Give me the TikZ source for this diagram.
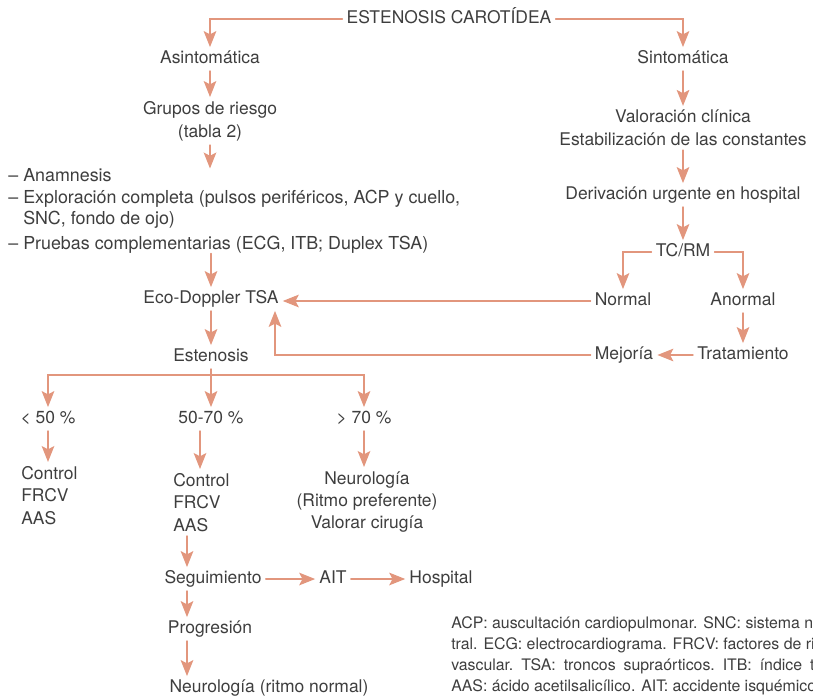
\documentclass[tikz,border=0pt]{standalone}
\usepackage{fontspec}
\setmainfont{TeX Gyre Heros}
\usetikzlibrary{arrows.meta}

\newcommand{\guion}{\makebox[11.25pt][l]{–}}
\newcommand{\wsp}{\hspace{0.5em}}

\begin{document}
\begin{tikzpicture}
	[x=0.75pt,y=-0.75pt,line cap=round,
	%Styles
	texto/.style={text=gristexto,inner sep=3pt,text height=9pt,text depth=2.5pt,font=\fontsize{13.1}{17}\selectfont},
	bloque/.style={text=gristexto,inner sep=3pt,align=center,font=\fontsize{13.1}{17}\selectfont},
	lista/.style={text=gristexto,inner sep=0pt,align=left,anchor=north west,font=\fontsize{13.4}{16.1}\selectfont},
	columna/.style={text=gristexto,inner sep=3pt,align=left,anchor=north west,font=\fontsize{13.1}{16.9}\selectfont},
	nota/.style={text=gristexto,inner sep=0pt,align=left,anchor=north west,font=\fontsize{11.9}{15.75}\selectfont},
	linea/.style={draw=salmon,line width=0.95pt},
	flecha/.style={linea,-{Stealth[length=12pt,width=9.5pt,inset=2.5pt]}}
	]
	
	%Colors
	\definecolor{salmon}{RGB}{226,150,125}	%connectors
	\definecolor{gristexto}{RGB}{62,62,62}	%text
	
	\useasboundingbox (0,0) rectangle (813,696);
	\clip (0,0) rectangle (813,696);
	
	%Top
	\node[texto] (titulo) at (449,19) {ESTENOSIS CAROTÍDEA};
	\node[texto] (asint) at (210,59) {Asintomática};
	\node[texto] (sint) at (683,59) {Sintomática};
	
	%Left column
	\node[bloque] (grupos) at (210,121) {Grupos de riesgo\\(tabla 2)};
	\node[lista] (lista) at (8,168.5) {\guion Anamnesis\\
		\guion Exploración completa (pulsos periféricos, ACP y cuello,\\
		\hspace*{11.25pt}SNC, fondo de ojo)\\[2.3pt]
		\guion Pruebas complementarias (ECG, ITB; Duplex TSA)};
	\node[texto] (eco) at (211,299) {Eco-Doppler TSA};
	\node[texto] (esten) at (211,357) {Estenosis};
	\coordinate (rama) at (211,375);
	
	%Right column
	\node[bloque] (valor) at (683,128) {Valoración clínica\\Estabilización de las constantes};
	\node[texto] (deriv) at (683,195) {Derivación urgente en hospital};
	\node[texto] (tcrm) at (683,252) {TC/RM};
	\node[texto] (normal) at (623,301) {Normal};
	\node[texto] (anormal) at (743,301) {Anormal};
	\node[texto] (trat) at (743,355) {Tratamiento};
	\node[texto] (mejoria) at (624,355) {Mejoría};
	\coordinate (retorno) at (275,0);
	
	%Stenosis grades
	\node[texto] (menor) at (48,419) {< 50 \%};
	\node[texto] (medio) at (211,419) {50-70 \%};
	\node[texto] (mayor) at (364,419) {> 70 \%};
	\node[columna] (ctrla) at (17,462) {Control\\FRCV\\AAS};
	\node[columna] (ctrlb) at (169,469) {Control\\FRCV\\AAS};
	\node[bloque,anchor=north,font=\fontsize{13.1}{16.5}\selectfont] (neuro) at (367,467) {Neurología\\(Ritmo preferente)\\Valorar cirugía};
	\coordinate (ejeb) at (200,0);
	\coordinate (ejec) at (187,0);
	
	%Follow-up
	\node[texto] (seguim) at (213,579) {Seguimiento};
	\node[texto] (ait) at (333,579) {AIT};
	\node[texto] (hosp) at (441,579) {Hospital};
	\node[texto] (progres) at (210,629) {Progresión};
	\node[texto] (neuronorm) at (269,688) {Neurología (ritmo normal)};
	
	%Abbreviations
	\node[nota] (nota) at (451,616.5) {ACP: auscultación cardiopulmonar. SNC: sistema n\\
		tral. ECG: electrocardiograma. FRCV: factores de ri\\
		vascular.\wsp TSA:\wsp troncos\wsp supraórticos.\wsp ITB:\wsp índice\wsp t\\
		AAS: ácido acetilsalicílico. AIT: accidente isquémico};
	
	%Connectors
	\draw[flecha] (titulo.west) -| (asint.north);
	\draw[flecha] (titulo.east) -| (sint.north);
	\draw[flecha] (asint.south) -- (grupos.north);
	\draw[flecha] (grupos.south) -- (grupos.south |- lista.north);
	\draw[flecha] (lista.south -| eco) -- (eco.north);
	\draw[flecha] (eco.south) -- (esten.north);
	
	\draw[flecha] (sint.south) -- (valor.north);
	\draw[flecha] (valor.south) -- (deriv.north);
	\draw[flecha] (deriv.south) -- (tcrm.north);
	\draw[flecha] (tcrm.west) -| (normal.north);
	\draw[flecha] (tcrm.east) -| (anormal.north);
	\draw[flecha] (anormal.south) -- (trat.north);
	\draw[flecha] (trat.west) -- (mejoria.east);
	\draw[flecha] (normal.west) -- (normal.west -| eco.east);
	\draw[flecha] (mejoria.west) -| (retorno |- eco.south);
	
	\draw[linea] (esten.south) -- (rama);
	\draw[flecha] (rama) -| (menor.north);
	\draw[flecha] (rama) -- (medio.north);
	\draw[flecha] (rama) -| (mayor.north);
	\draw[flecha] (menor.south) -- (menor.south |- ctrla.north);
	\draw[flecha] (medio.south -| ejeb) -- (ctrlb.north -| ejeb);
	\draw[flecha] (mayor.south) -- (mayor.south |- neuro.north);
	
	\draw[flecha] (ctrlb.south -| ejec) -- (seguim.north -| ejec);
	\draw[flecha] (seguim.east) -- (ait.west);
	\draw[flecha] (ait.east) -- (hosp.west);
	\draw[flecha] (seguim.south -| ejec) -- (progres.north -| ejec);
	\draw[flecha] (progres.south -| ejec) -- (neuronorm.north -| ejec);
\end{tikzpicture}
\end{document}
